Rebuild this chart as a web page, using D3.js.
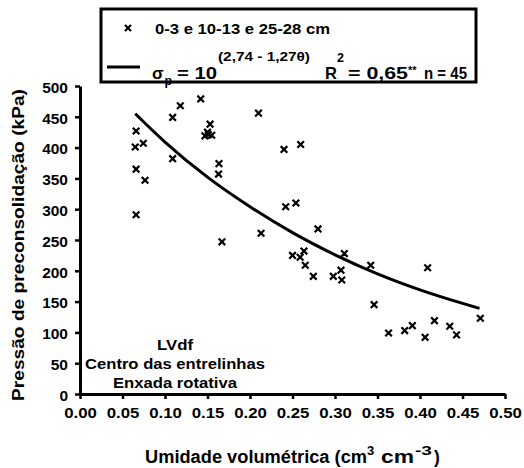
<!DOCTYPE html>
<html>
<head>
<meta charset="utf-8">
<script src="https://unpkg.com/d3@7.8.5/dist/d3.min.js"></script>
<style>
  body { margin: 0; background: #fff; }
  svg text { font-family: "Liberation Sans", Arial, sans-serif; font-weight: bold; fill: #000; }
</style>
</head>
<body>
<div id="chart"></div>
<script>
// moisture (cm3 cm-3) and preconsolidation pressure (kPa)
let theta = [0.066, 0.065, 0.0745, 0.066, 0.0765, 0.066, 0.109, 0.118, 0.142, 0.109,
             0.153, 0.147, 0.150, 0.155, 0.151, 0.1635, 0.163, 0.167, 0.210, 0.213,
             0.240, 0.242, 0.254, 0.2596, 0.280, 0.250, 0.259, 0.2635, 0.265, 0.2745,
             0.298, 0.307, 0.308, 0.311, 0.342, 0.409, 0.346, 0.363, 0.382, 0.391,
             0.406, 0.417, 0.435, 0.443, 0.471];
let sigma = [427, 401, 407, 365, 347, 291, 449, 468, 479, 382,
             438, 419, 425, 420, 421, 374, 357, 247, 456, 261,
             397, 304, 310, 405, 268, 225, 222, 232, 209, 191,
             191, 201, 185, 228, 209, 205, 145, 99, 103, 111,
             92, 119, 110, 96, 123];

// fitted curve
let fitTheta = [0.065, 0.10, 0.15, 0.20, 0.25, 0.30, 0.35, 0.40, 0.47];
let fitSigma = [455, 409, 352, 304, 262, 226, 195, 169, 139];

let xTicks = [0, 0.05, 0.10, 0.15, 0.20, 0.25, 0.30, 0.35, 0.40, 0.45, 0.50];
let yTicks = [0, 50, 100, 150, 200, 250, 300, 350, 400, 450, 500];

let annotation = ["LVdf", "Centro das entrelinhas", "Enxada rotativa"];

let width = 524;
let height = 468;

let svg = d3.select("#chart").append("svg")
    .attr("width", width)
    .attr("height", height);

let x = d3.scaleLinear().domain([0, 0.5]).range([80, 505]);
let y = d3.scaleLinear().domain([0, 500]).range([394, 86]);

// text helper: fixed width so the wide look of the original is kept
function label(parent, tx, ty, size, str, len, anchor) {
    let t = parent.append("text")
        .attr("x", tx)
        .attr("y", ty)
        .attr("font-size", size)
        .attr("text-anchor", anchor || "start")
        .text(str);
    if (len) t.attr("textLength", len).attr("lengthAdjust", "spacingAndGlyphs");
    return t;
}

// axes
let xAxis = svg.append("g")
    .attr("transform", `translate(0,${y(0)})`)
    .call(d3.axisBottom(x).tickValues(xTicks).tickSize(5).tickSizeOuter(0).tickFormat(d3.format(".2f")));
xAxis.selectAll(".tick text")
    .attr("y", 24).attr("dy", 0)
    .attr("font-size", 15)
    .attr("transform", "scale(1.12,1)");

let yAxis = svg.append("g")
    .attr("transform", `translate(${x(0)},0)`)
    .call(d3.axisLeft(y).tickValues(yTicks).tickSize(5).tickSizeOuter(0));
yAxis.selectAll(".tick text")
    .attr("x", -12).attr("dy", "0.4em")
    .attr("font-size", 15.5);

svg.selectAll(".domain").attr("stroke", "#000").attr("stroke-width", 3);
svg.selectAll(".tick line").attr("stroke", "#000").attr("stroke-width", 2.5);
svg.selectAll(".tick text").style("font-family", "'Liberation Sans', Arial, sans-serif").style("font-weight", "bold").attr("fill", "#000");

// axis titles
label(svg, 145, 463, 17.5, "Umidade volumétrica (cm", 222);
label(svg, 367, 455, 13, "3");
label(svg, 381, 463, 17.5, "cm", 33);
label(svg, 415, 455, 13, "-3", 17);
label(svg, 434, 463, 17.5, ")");

label(svg, 0, 0, 16.5, "Pressão de preconsolidação (kPa)", 312, "middle")
    .attr("transform", "translate(24,245) rotate(-90)");

// fitted curve
let line = d3.line()
    .x((d, i) => x(fitTheta[i]))
    .y(d => y(d))
    .curve(d3.curveMonotoneX);

svg.append("path")
    .datum(fitSigma)
    .attr("d", line)
    .attr("fill", "none")
    .attr("stroke", "#000")
    .attr("stroke-width", 3);

// points as x marks
function cross(sel, s) {
    sel.attr("d", `M${-s},${-s}L${s},${s}M${-s},${s}L${s},${-s}`)
        .attr("stroke", "#000")
        .attr("stroke-width", 2.2)
        .attr("fill", "none");
}

svg.append("g")
    .selectAll("path")
    .data(sigma)
    .join("path")
    .attr("transform", (d, i) => `translate(${x(theta[i])},${y(d)})`)
    .call(cross, 3.3);

// annotation
let annLen = [36, 180, 124];
annotation.forEach((d, i) => {
    label(svg, 175, [350, 368.5, 388][i], 15.5, d, annLen[i], "middle");
});

// legend
let legend = svg.append("g");
legend.append("rect")
    .attr("x", 101)
    .attr("y", 9)
    .attr("width", 375)
    .attr("height", 73)
    .attr("fill", "#fff")
    .attr("stroke", "#000")
    .attr("stroke-width", 3);

legend.append("path")
    .attr("transform", "translate(128,28)")
    .call(cross, 3);

label(legend, 155, 34, 14.5, "0-3 e 10-13 e 25-28 cm", 175);

legend.append("line")
    .attr("x1", 107).attr("x2", 140)
    .attr("y1", 67).attr("y2", 67)
    .attr("stroke", "#000")
    .attr("stroke-width", 3);

label(legend, 152, 79, 17, "σ");
label(legend, 164.5, 85, 12.5, "p");
label(legend, 177, 79, 16.5, "= 10", 40);
label(legend, 218, 61, 12.5, "(2,74 - 1,27θ)", 92);
label(legend, 325, 79, 16.5, "R");
label(legend, 337, 62, 12.5, "2");
label(legend, 348, 79, 16.5, "= 0,65", 60);
label(legend, 408, 74, 11, "**");
label(legend, 424, 79, 16.5, "n = 45", 43);
</script>
</body>
</html>
